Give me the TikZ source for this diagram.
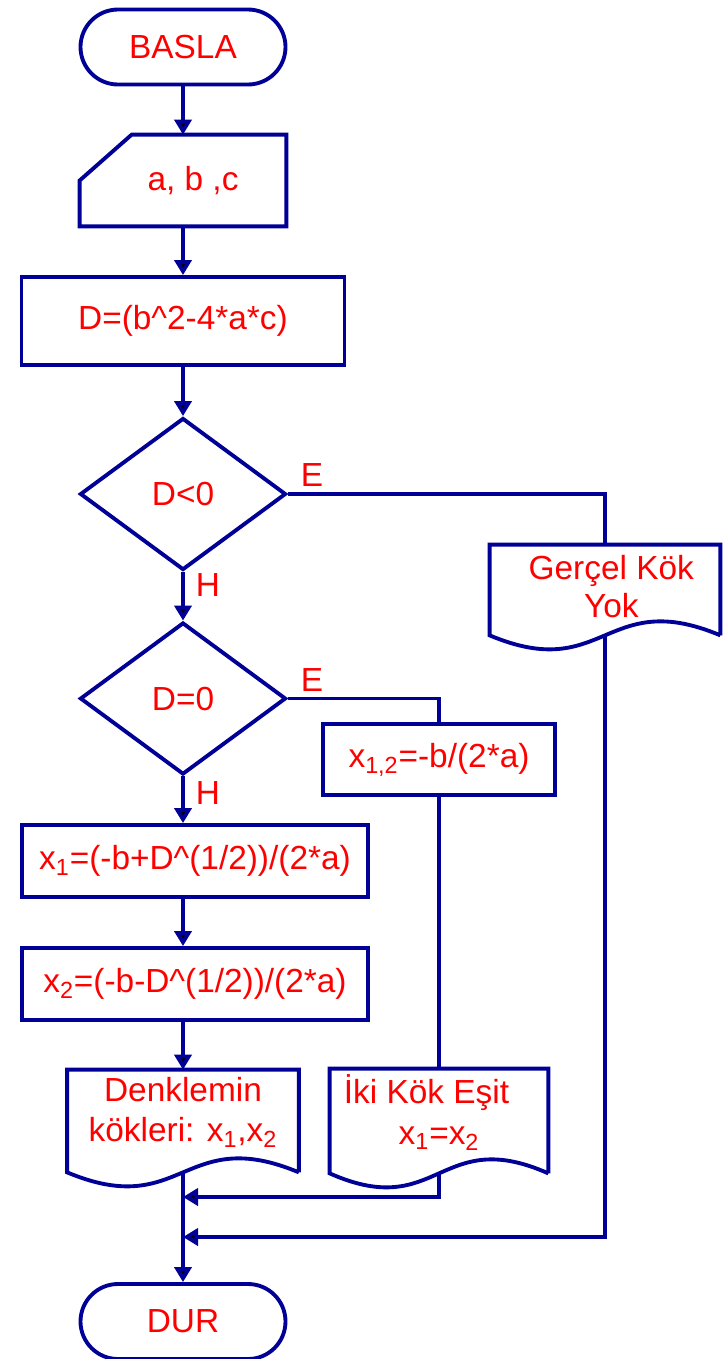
\documentclass[tikz,border=0pt]{standalone}
\usepackage{fontspec}
\setmainfont{Liberation Sans}
\usepackage{tikz}
\usetikzlibrary{arrows.meta,positioning,shapes,calc}
\usepackage{xcolor}

\definecolor{hat}{RGB}{0,0,150}
\definecolor{yazi}{RGB}{255,0,0}

% belge (document) outline with wavy bottom
\newcommand{\belgeciz}[1]{%
  \draw[cizgi] (#1.south east) -- (#1.north east) -- (#1.north west) -- (#1.south west)
    .. controls ($(#1.south)+(0,-0.97)$) and ($(#1.south)+(0,0.97)$) .. (#1.south east);}

\begin{document}
\begin{tikzpicture}[
    cizgi/.style={draw=hat,line width=2.2pt},
    ok/.style={cizgi,-{Triangle[length=0.3cm,width=0.34cm,fill=black]}},
    yazilar/.style={text=yazi,font=\fontsize{19}{23}\selectfont,align=center},
    terminal/.style={yazilar,cizgi,rectangle,rounded corners=0.75cm,minimum width=4.1cm,minimum height=1.5cm},
    islem/.style={yazilar,cizgi,rectangle,minimum height=1.44cm},
    karar/.style={yazilar,cizgi,diamond,inner sep=0pt,minimum width=4.12cm,minimum height=3.04cm},
    belge/.style={yazilar,rectangle,minimum height=2.04cm},
    elle/.style={yazilar,rectangle,minimum width=4.12cm,minimum height=1.82cm},
    etiket/.style={text=yazi,font=\fontsize{19}{23}\selectfont}
  ]
    \useasboundingbox (0,0) rectangle (14.52,-27.18);

    % Start and input
    \node[terminal] (basla) at (3.66,-0.94) {BASLA};
    \node[elle] (giris) at (3.66,-3.61) {\hspace{0.4cm}a, b ,c};
    \draw[cizgi] (giris.west) -- ([xshift=1.04cm]giris.north west) -- (giris.north east)
      -- (giris.south east) -- (giris.south west) -- cycle;

    % Discriminant
    \node[islem,minimum width=6.46cm,minimum height=1.76cm] (hesap) at (3.66,-6.42) {D=(b\textasciicircum2-4*a*c)};

    % Decisions
    \node[karar] (karar1) at (3.66,-9.88) {D<0};
    \node[karar] (karar2) at (3.66,-13.97) {D=0};

    % No real root branch
    \node[belge,minimum width=4.6cm,minimum height=1.8cm] (gercel) at (12.1,-11.8) {\hspace*{0.25cm}Gerçel Kök\\[-0.05cm]\hspace*{0.25cm}Yok\\[-0.65cm]};
    \belgeciz{gercel}

    % Equal roots branch
    \node[islem,minimum width=4.64cm,minimum height=1.42cm] (esit) at (8.78,-15.19) {x\textsubscript{1,2}=-b/(2*a)};
    \node[belge,minimum width=4.36cm] (iki) at (8.78,-22.42) {İki Kök Eşit\hspace*{0.5cm}\\x\textsubscript{1}=x\textsubscript{2}\hspace*{0.5cm}\\[-0.35cm]};
    \belgeciz{iki}

    % Two roots branch
    \node[islem,minimum width=6.92cm] (kok1) at (3.9,-17.22) {x\textsubscript{1}=(-b+D\textasciicircum(1/2))/(2*a)};
    \node[islem,minimum width=6.92cm] (kok2) at (3.9,-19.68) {x\textsubscript{2}=(-b-D\textasciicircum(1/2))/(2*a)};
    \node[belge,minimum width=4.62cm] (sonuc) at (3.66,-22.42) {Denklemin\\kökleri: x\textsubscript{1},x\textsubscript{2}\\[-0.35cm]};
    \belgeciz{sonuc}

    % End
    \node[terminal] (dur) at (3.66,-26.43) {DUR};
    \coordinate (birles1) at (3.66,-23.94);
    \coordinate (birles2) at (3.66,-24.74);

    % Main flow
    \draw[ok] (basla) -- (giris);
    \draw[ok] (giris) -- (hesap);
    \draw[ok] (hesap) -- (karar1);
    \draw[ok] (karar1) -- (karar2);
    \draw[ok] (karar2) -- (karar2.south |- kok1.north);
    \draw[ok] (karar2.south |- kok1.south) -- (karar2.south |- kok2.north);
    \draw[ok] (karar2.south |- kok2.south) -- (sonuc);
    \draw[ok] (sonuc) -- (dur);

    % Side branches
    \draw[cizgi] (karar1.east) -| (gercel.north);
    \draw[cizgi] (karar2.east) -| (esit.north);
    \draw[cizgi] (esit) -- (iki);
    \draw[ok] (iki.south) |- (birles1);
    \draw[ok] (gercel.south) |- (birles2);

    % Branch labels
    \node[etiket] (e1) at (6.24,-9.5) {E};
    \node[etiket] (h1) at (4.16,-11.7) {H};
    \node[etiket] (e2) at (6.24,-13.6) {E};
    \node[etiket] (h2) at (4.16,-15.86) {H};
  \end{tikzpicture}
\end{document}
